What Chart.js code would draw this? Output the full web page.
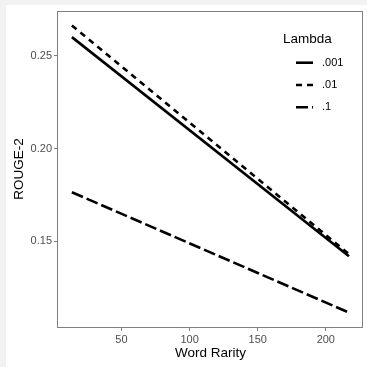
<!DOCTYPE html>
<html>
<head>
<meta charset="utf-8">
<script src="https://cdn.jsdelivr.net/npm/chart.js@4.4.1/dist/chart.umd.min.js"></script>
<style>
  html, body { margin: 0; padding: 0; background: #f2f2f2; }
  canvas { display: block; }
</style>
</head>
<body>
<canvas id="c" width="367" height="367"></canvas>
<script>
const wordRarity = [13.6, 217];
const lambda001 = [0.2601, 0.1419];
const lambda01 = [0.2664, 0.1430];
const lambda1 = [0.1764, 0.1115];
const seriesLabels = ['.001', '.01', '.1'];
const xTicks = [50, 100, 150, 200];
const yTicks = [0.15, 0.20, 0.25];
const legendTitle = 'Lambda';
const xTitle = 'Word Rarity';
const yTitle = 'ROUGE-2';

const FONT = "'Liberation Sans', Arial, Helvetica, sans-serif";
const dashes = [[], [6, 5], [12, 4]];
const seriesData = [lambda001, lambda01, lambda1];

const datasets = seriesData.map((vals, i) => ({
  label: seriesLabels[i],
  data: vals.map((v, j) => ({ x: wordRarity[j], y: v })),
  borderColor: '#000',
  borderWidth: 2.6,
  borderDash: dashes[i],
  borderCapStyle: 'butt',
  pointRadius: 0,
  fill: false,
  tension: 0
}));

const bgPlugin = {
  id: 'bg',
  beforeDraw(chart) {
    const ctx = chart.ctx;
    ctx.save();
    ctx.fillStyle = '#f2f2f2';
    ctx.fillRect(0, 0, chart.width, chart.height);
    ctx.fillStyle = '#ffffff';
    ctx.fillRect(6, 5, chart.width - 6, chart.height - 5);
    ctx.restore();
  },
  afterDraw(chart) {
    const ctx = chart.ctx;
    const a = chart.chartArea;
    ctx.save();
    ctx.strokeStyle = '#7f7f7f';
    ctx.lineWidth = 1;
    ctx.strokeRect(Math.round(a.left) - 0.5, Math.round(a.top) + 0.5,
      Math.round(a.right - a.left), Math.round(a.bottom - a.top));
    // legend
    ctx.fillStyle = '#000';
    ctx.textBaseline = 'middle';
    ctx.textAlign = 'left';
    ctx.font = '13.5px ' + FONT;
    ctx.fillText(legendTitle, 283, 39);
    const ys = [62.7, 85, 107.3];
    chart.data.datasets.forEach((ds, i) => {
      ctx.beginPath();
      ctx.setLineDash(ds.borderDash);
      ctx.lineWidth = ds.borderWidth;
      ctx.lineCap = 'butt';
      ctx.strokeStyle = ds.borderColor;
      ctx.moveTo(296, ys[i]);
      ctx.lineTo(313, ys[i]);
      ctx.stroke();
      ctx.setLineDash([]);
      ctx.fillStyle = '#000';
      ctx.font = '11px ' + FONT;
      ctx.fillText(ds.label, 322, ys[i]);
    });
    ctx.restore();
  }
};

new Chart(document.getElementById('c'), {
  type: 'line',
  data: { datasets },
  plugins: [bgPlugin],
  options: {
    responsive: false,
    animation: false,
    layout: { padding: { left: 0, top: 11, right: 4, bottom: 0 } },
    plugins: { legend: { display: false }, tooltip: { enabled: false } },
    scales: {
      x: {
        type: 'linear',
        min: 3.4,
        max: 227.3,
        afterBuildTicks(s) { s.ticks = xTicks.map(v => ({ value: v })); },
        afterFit(s) { s.height = 40; },
        grid: { drawOnChartArea: false, drawTicks: true, tickLength: 4, color: '#7f7f7f' },
        border: { display: false },
        ticks: { color: '#4d4d4d', font: { family: FONT, size: 11 }, padding: 2, maxRotation: 0, autoSkip: false },
        title: { display: true, text: xTitle, color: '#000', font: { family: FONT, size: 13.5 }, padding: { top: 0, bottom: 6 } }
      },
      y: {
        type: 'linear',
        min: 0.1037,
        max: 0.2742,
        afterBuildTicks(s) { s.ticks = yTicks.map(v => ({ value: v })); },
        afterFit(s) { s.width = 58; },
        grid: { drawOnChartArea: false, drawTicks: true, tickLength: 4, color: '#7f7f7f' },
        border: { display: false },
        ticks: { color: '#4d4d4d', font: { family: FONT, size: 11 }, padding: 2, autoSkip: false,
          callback: v => Number(v).toFixed(2) },
        title: { display: true, text: yTitle, color: '#000', font: { family: FONT, size: 13.5 }, padding: { top: 11, bottom: 0 } }
      }
    }
  }
});
</script>
</body>
</html>
